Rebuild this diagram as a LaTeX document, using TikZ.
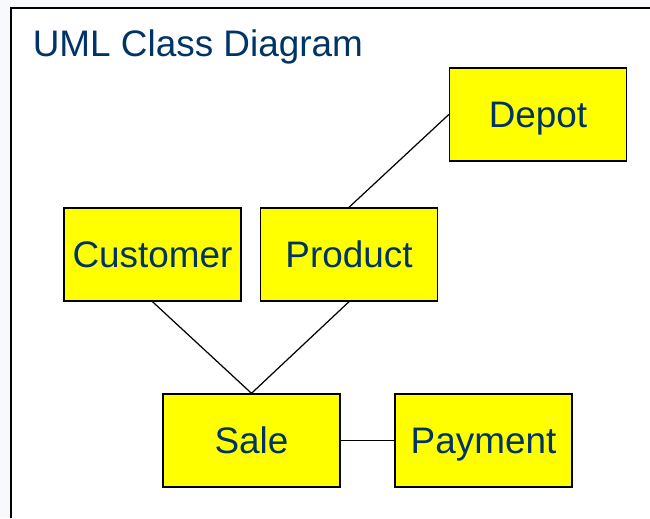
\documentclass[tikz,border=0pt]{standalone}
\usepackage{fontspec}
\setmainfont{Liberation Sans}
\usepackage{tikz}
\usetikzlibrary{positioning}
\definecolor{umlblue}{HTML}{003366}
\definecolor{umlyellow}{HTML}{FFFF00}
\definecolor{pagetint}{HTML}{F7F9FC}

\begin{document}
\begin{tikzpicture}[
		classbox/.style={draw=black, line width=0.8pt, fill=umlyellow, minimum width=3.54cm, minimum height=1.86cm, inner sep=0pt, font=\fontsize{21}{25}\selectfont, text=umlblue, text height=15pt, text depth=0pt},
		assoc/.style={draw=black, line width=0.7pt}]
		% page and frame
		\useasboundingbox (0,0) rectangle (13,-10.36);
		\fill[pagetint] (0,0) rectangle (13,-10.36);
		\fill[white] (0.22,-0.16) rectangle (13,-10.36);
		\draw[line width=1.3pt] (0.22,-10.36)--(0.22,-0.16)--(13,-0.16);
		\node[anchor=base west, inner sep=0pt, font=\fontsize{21}{25}\selectfont, text=umlblue] (title) at (0.65,-1.12) {UML Class Diagram};
		% classes
		\node[classbox] (depot) at (10.76, -2.29) {Depot};
		\node[classbox] (customer) at (3.05, -5.09) {Customer};
		\node[classbox] (product) at (6.98, -5.09) {Product};
		\node[classbox] (sale) at (5.03, -8.81) {Sale};
		\node[classbox] (payment) at (9.67, -8.81) {Payment};
		% associations
		\draw[assoc] (product.north)--(depot.west);
		\draw[assoc] (customer.south)--(sale.north)--(product.south);
		\draw[assoc] (sale.east)--(payment.west);
		\end{tikzpicture}
\end{document}
